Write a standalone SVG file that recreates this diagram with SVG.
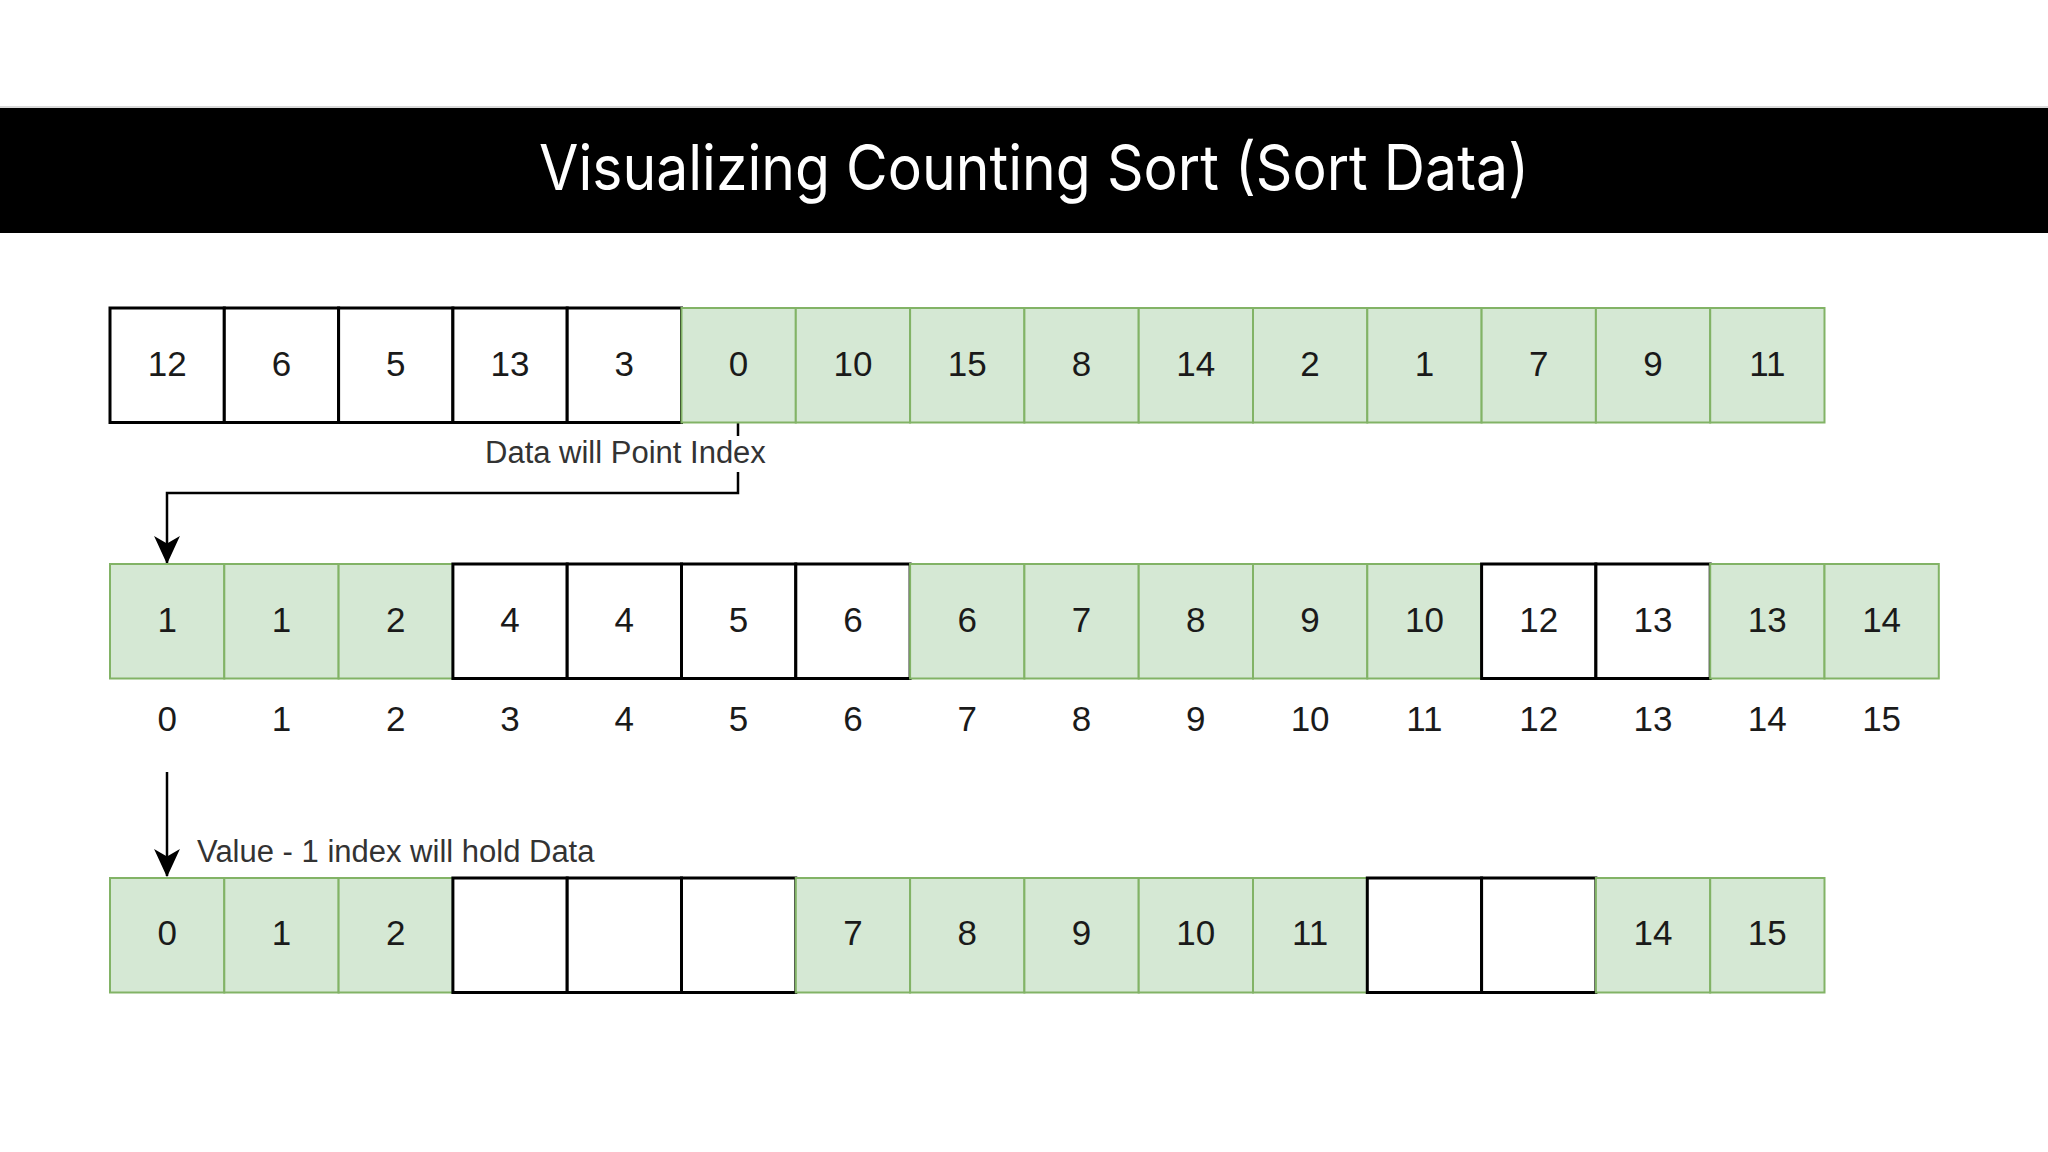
<svg xmlns="http://www.w3.org/2000/svg" width="2048" height="1152" viewBox="0 0 2048 1152">
<style>
.g{fill:#d5e8d4;stroke:#82b366;stroke-width:2}
.w{fill:#ffffff;stroke:#000000;stroke-width:3}
.n{font-family:"Liberation Sans",Arial,sans-serif;font-size:35px;fill:#1a1a1a;text-anchor:middle}
.lbl{font-family:"Liberation Sans",Arial,sans-serif;font-size:31px;fill:#333333}
.conn{fill:none;stroke:#000000;stroke-width:2.5}
</style>
<defs>
<marker id="arr" markerUnits="userSpaceOnUse" viewBox="0 0 26 24" refX="25" refY="12" markerWidth="28" markerHeight="26" orient="auto">
<path d="M0,0 L26,12 L0,24 L7,12 Z" fill="#000000"/>
</marker>
</defs>
<rect x="0" y="0" width="2048" height="1152" fill="#ffffff"/>
<g id="title">
<line x1="0" y1="107" x2="2048" y2="107" stroke="#cccccc" stroke-width="1.5"/>
<rect x="0" y="108" width="2048" height="125" fill="#000000"/>
<text x="539" y="190" font-family="Inter,'Open Sans',sans-serif" font-size="63" fill="#ffffff" textLength="990" lengthAdjust="spacingAndGlyphs">Visualizing Counting Sort (Sort Data)</text>
</g>
<g id="connectors">
<path class="conn" d="M738,422 L738,493 L167,493 L167,563" marker-end="url(#arr)"/>
<path class="conn" d="M167,772 L167,876" marker-end="url(#arr)"/>
</g>
<g id="row1">
<rect class="w" x="110" y="308" width="114.3" height="114.5"/><text class="n" x="167.2" y="376">12</text>
<rect class="w" x="224.3" y="308" width="114.3" height="114.5"/><text class="n" x="281.4" y="376">6</text>
<rect class="w" x="338.6" y="308" width="114.3" height="114.5"/><text class="n" x="395.7" y="376">5</text>
<rect class="w" x="452.9" y="308" width="114.3" height="114.5"/><text class="n" x="510" y="376">13</text>
<rect class="w" x="567.2" y="308" width="114.3" height="114.5"/><text class="n" x="624.3" y="376">3</text>
<rect class="g" x="681.5" y="308" width="114.3" height="114.5"/><text class="n" x="738.6" y="376">0</text>
<rect class="g" x="795.8" y="308" width="114.3" height="114.5"/><text class="n" x="852.9" y="376">10</text>
<rect class="g" x="910.1" y="308" width="114.3" height="114.5"/><text class="n" x="967.2" y="376">15</text>
<rect class="g" x="1024.4" y="308" width="114.3" height="114.5"/><text class="n" x="1081.5" y="376">8</text>
<rect class="g" x="1138.7" y="308" width="114.3" height="114.5"/><text class="n" x="1195.8" y="376">14</text>
<rect class="g" x="1253" y="308" width="114.3" height="114.5"/><text class="n" x="1310.1" y="376">2</text>
<rect class="g" x="1367.3" y="308" width="114.3" height="114.5"/><text class="n" x="1424.4" y="376">1</text>
<rect class="g" x="1481.6" y="308" width="114.3" height="114.5"/><text class="n" x="1538.7" y="376">7</text>
<rect class="g" x="1595.9" y="308" width="114.3" height="114.5"/><text class="n" x="1653" y="376">9</text>
<rect class="g" x="1710.2" y="308" width="114.3" height="114.5"/><text class="n" x="1767.3" y="376">11</text>
</g>
<g id="label-data-point-index">
<rect x="481" y="436" width="292" height="36" fill="#ffffff"/>
<text class="lbl" x="485" y="463">Data will Point Index</text>
</g>
<g id="row2">
<rect class="g" x="110" y="564" width="114.3" height="114.5"/><text class="n" x="167.2" y="632">1</text>
<rect class="g" x="224.3" y="564" width="114.3" height="114.5"/><text class="n" x="281.4" y="632">1</text>
<rect class="g" x="338.6" y="564" width="114.3" height="114.5"/><text class="n" x="395.7" y="632">2</text>
<rect class="w" x="452.9" y="564" width="114.3" height="114.5"/><text class="n" x="510" y="632">4</text>
<rect class="w" x="567.2" y="564" width="114.3" height="114.5"/><text class="n" x="624.3" y="632">4</text>
<rect class="w" x="681.5" y="564" width="114.3" height="114.5"/><text class="n" x="738.6" y="632">5</text>
<rect class="w" x="795.8" y="564" width="114.3" height="114.5"/><text class="n" x="852.9" y="632">6</text>
<rect class="g" x="910.1" y="564" width="114.3" height="114.5"/><text class="n" x="967.2" y="632">6</text>
<rect class="g" x="1024.4" y="564" width="114.3" height="114.5"/><text class="n" x="1081.5" y="632">7</text>
<rect class="g" x="1138.7" y="564" width="114.3" height="114.5"/><text class="n" x="1195.8" y="632">8</text>
<rect class="g" x="1253" y="564" width="114.3" height="114.5"/><text class="n" x="1310.1" y="632">9</text>
<rect class="g" x="1367.3" y="564" width="114.3" height="114.5"/><text class="n" x="1424.4" y="632">10</text>
<rect class="w" x="1481.6" y="564" width="114.3" height="114.5"/><text class="n" x="1538.7" y="632">12</text>
<rect class="w" x="1595.9" y="564" width="114.3" height="114.5"/><text class="n" x="1653" y="632">13</text>
<rect class="g" x="1710.2" y="564" width="114.3" height="114.5"/><text class="n" x="1767.3" y="632">13</text>
<rect class="g" x="1824.5" y="564" width="114.3" height="114.5"/><text class="n" x="1881.6" y="632">14</text>
</g>
<g id="index-labels">
<text class="n" x="167.2" y="731">0</text>
<text class="n" x="281.4" y="731">1</text>
<text class="n" x="395.7" y="731">2</text>
<text class="n" x="510" y="731">3</text>
<text class="n" x="624.3" y="731">4</text>
<text class="n" x="738.6" y="731">5</text>
<text class="n" x="852.9" y="731">6</text>
<text class="n" x="967.2" y="731">7</text>
<text class="n" x="1081.5" y="731">8</text>
<text class="n" x="1195.8" y="731">9</text>
<text class="n" x="1310.1" y="731">10</text>
<text class="n" x="1424.4" y="731">11</text>
<text class="n" x="1538.7" y="731">12</text>
<text class="n" x="1653" y="731">13</text>
<text class="n" x="1767.3" y="731">14</text>
<text class="n" x="1881.6" y="731">15</text>
</g>
<g id="label-value-index">
<text class="lbl" x="197" y="862">Value - 1 index will hold Data</text>
</g>
<g id="row3">
<rect class="g" x="110" y="878" width="114.3" height="114.5"/><text class="n" x="167.2" y="945">0</text>
<rect class="g" x="224.3" y="878" width="114.3" height="114.5"/><text class="n" x="281.4" y="945">1</text>
<rect class="g" x="338.6" y="878" width="114.3" height="114.5"/><text class="n" x="395.7" y="945">2</text>
<rect class="w" x="452.9" y="878" width="114.3" height="114.5"/>
<rect class="w" x="567.2" y="878" width="114.3" height="114.5"/>
<rect class="w" x="681.5" y="878" width="114.3" height="114.5"/>
<rect class="g" x="795.8" y="878" width="114.3" height="114.5"/><text class="n" x="852.9" y="945">7</text>
<rect class="g" x="910.1" y="878" width="114.3" height="114.5"/><text class="n" x="967.2" y="945">8</text>
<rect class="g" x="1024.4" y="878" width="114.3" height="114.5"/><text class="n" x="1081.5" y="945">9</text>
<rect class="g" x="1138.7" y="878" width="114.3" height="114.5"/><text class="n" x="1195.8" y="945">10</text>
<rect class="g" x="1253" y="878" width="114.3" height="114.5"/><text class="n" x="1310.1" y="945">11</text>
<rect class="w" x="1367.3" y="878" width="114.3" height="114.5"/>
<rect class="w" x="1481.6" y="878" width="114.3" height="114.5"/>
<rect class="g" x="1595.9" y="878" width="114.3" height="114.5"/><text class="n" x="1653" y="945">14</text>
<rect class="g" x="1710.2" y="878" width="114.3" height="114.5"/><text class="n" x="1767.3" y="945">15</text>
</g>
</svg>
